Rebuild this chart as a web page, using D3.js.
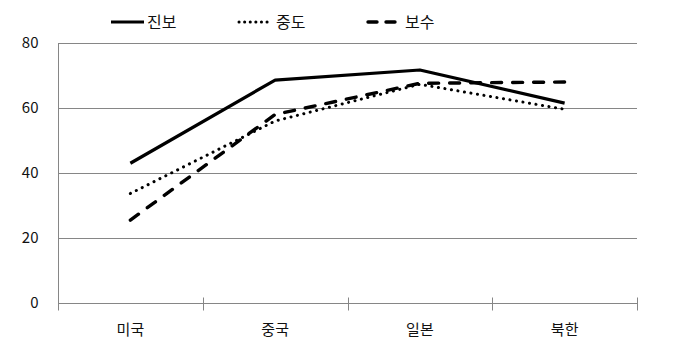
<!DOCTYPE html>
<html><head><meta charset="utf-8">
<script src="https://cdn.jsdelivr.net/npm/d3@7"></script>
<style>body{margin:0;background:#fff}svg{display:block}</style>
</head><body>
<svg id="c" width="682" height="356"></svg>
<script>
const categories = ["미국", "중국", "일본", "북한"];
const seriesNames = ["진보", "중도", "보수"];
const progressive = [43.0, 68.6, 71.7, 61.5];
const moderate = [33.7, 56.0, 67.3, 59.6];
const conservative = [25.5, 58.0, 67.6, 68.0];
const yTicks = [0, 20, 40, 60, 80];

const series = [
  {name: seriesNames[0], values: progressive, dash: null, width: 3.2, cap: "butt"},
  {name: seriesNames[1], values: moderate, dash: "0.1 6.5", width: 3, cap: "round"},
  {name: seriesNames[2], values: conservative, dash: "10 11", width: 3.4, cap: "round"}
];

const svg = d3.select("#c");
const L = 58, R = 637, T = 43, B = 303;
const x = d3.scaleBand().domain(categories).range([L, R]);
const y = d3.scaleLinear().domain([0, 80]).range([B, T]);
const font = "'Noto Sans CJK KR', 'Malgun Gothic', sans-serif";

// gridlines
svg.append("g").selectAll("line").data(yTicks).join("line")
  .attr("x1", L).attr("x2", R)
  .attr("y1", d => y(d) + 0.5).attr("y2", d => y(d) + 0.5)
  .attr("stroke", "#868686").attr("stroke-width", 1);

// y axis
const yAxis = svg.append("g").attr("transform", `translate(${L + 0.5},0)`)
  .call(d3.axisLeft(y).tickValues(yTicks).tickSize(0).tickPadding(20));
yAxis.select(".domain").remove();
yAxis.append("line").attr("x1", 0).attr("x2", 0).attr("y1", T).attr("y2", B + 7)
  .attr("stroke", "#868686");
yAxis.selectAll("text").attr("font-family", font).attr("font-size", 15).attr("fill", "#111");

// x axis
const xAxis = svg.append("g").attr("transform", `translate(0,${B + 0.5})`)
  .call(d3.axisBottom(x).tickSize(0).tickPadding(21));
xAxis.select(".domain").remove();
xAxis.selectAll("text").attr("font-family", font).attr("font-size", 15).attr("fill", "#111");
const bounds = categories.map(c => x(c)).concat([R]);
xAxis.append("g").selectAll("line").data(bounds).join("line")
  .attr("x1", d => Math.round(d) + 0.5).attr("x2", d => Math.round(d) + 0.5)
  .attr("y1", -6).attr("y2", 7).attr("stroke", "#868686");

// lines
const line = d3.line()
  .x((d, i) => x(categories[i]) + x.bandwidth() / 2)
  .y(d => y(d));
svg.append("g").selectAll("path").data(series).join("path")
  .attr("d", d => line(d.values))
  .attr("fill", "none").attr("stroke", "#000")
  .attr("stroke-width", d => d.width)
  .attr("stroke-linecap", d => d.cap)
  .attr("stroke-linejoin", "round")
  .attr("stroke-dasharray", d => d.dash);

// legend
const legendX = [110, 238, 367];
const lg = svg.append("g").selectAll("g").data(series).join("g")
  .attr("transform", (d, i) => `translate(${legendX[i]},22)`);
lg.append("line").attr("x1", 1).attr("x2", d => d.dash && d.dash.startsWith("10") ? 29 : 34)
  .attr("y1", 0).attr("y2", 0)
  .attr("stroke", "#000").attr("stroke-width", d => d.width)
  .attr("stroke-linecap", d => d.cap)
  .attr("stroke-dasharray", d => d.dash ? (d.dash.startsWith("10") ? "9 9" : "0.1 5.5") : null);
lg.append("text").attr("x", (d, i) => [37, 38, 38][i]).attr("y", 0).attr("dy", "0.35em")
  .attr("font-family", font).attr("font-size", 16).attr("fill", "#111")
  .text(d => d.name);
</script>
</body></html>
